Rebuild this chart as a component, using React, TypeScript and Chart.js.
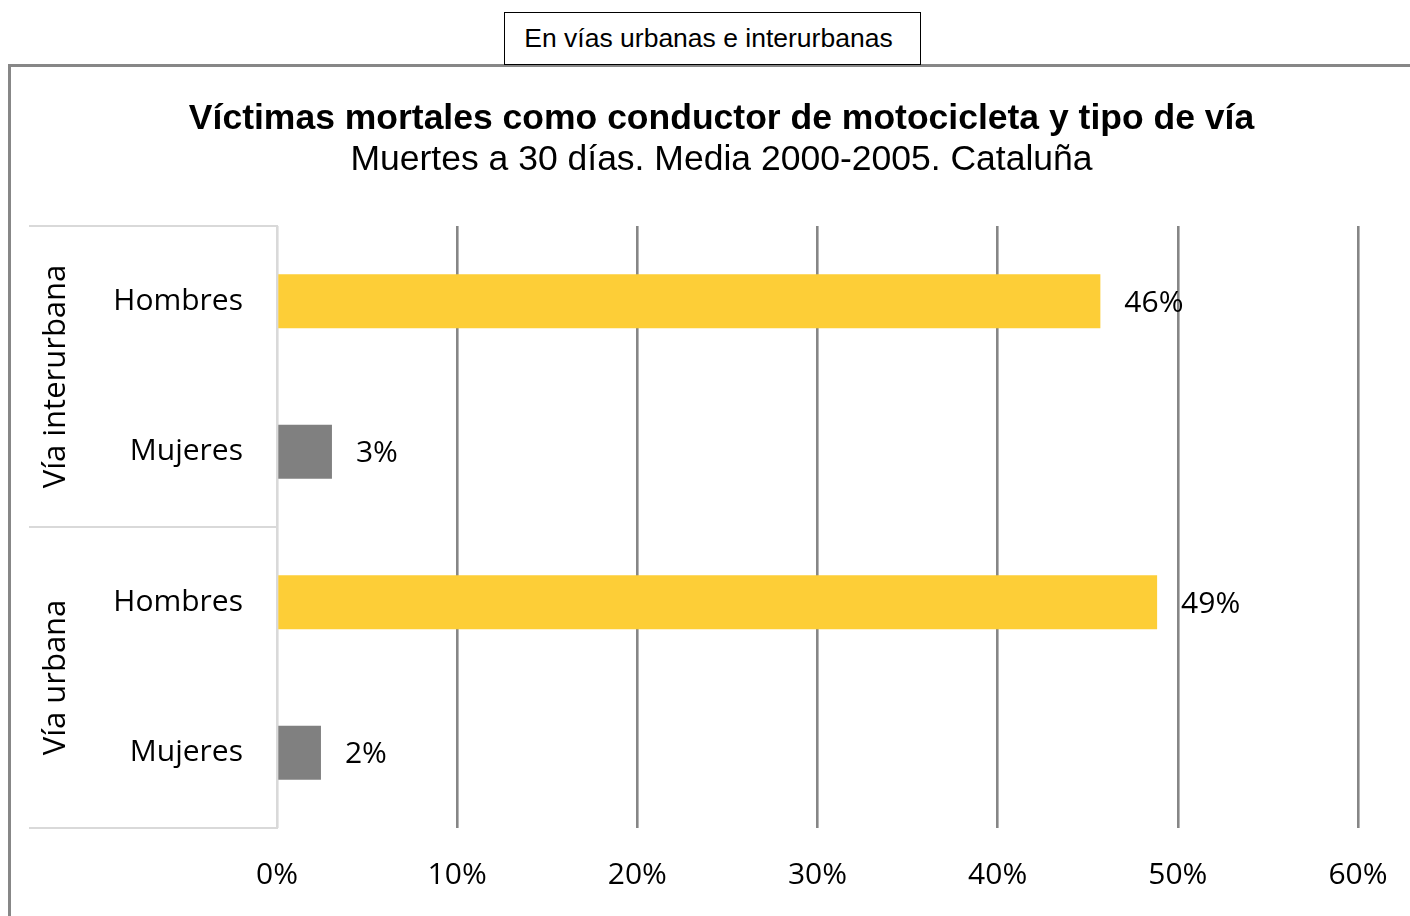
import React, { useEffect, useRef } from "react";
import { Chart, registerables } from "chart.js";

Chart.register(...registerables);

const groupLabels = ["Vía interurbana", "Vía urbana"];
const categories = ["Hombres", "Mujeres", "Hombres", "Mujeres"];
const values = [45.7, 3.05, 48.85, 2.44];
const barColors = ["#FDCE37", "#808080", "#FDCE37", "#808080"];
const xTicks = [0, 10, 20, 30, 40, 50, 60];

const LABEL_FONT = '"Open Sans", "Noto Sans", sans-serif';

const groupPlugin = {
  id: "groupPlugin",
  afterDraw(chart: any) {
    const { ctx, chartArea, scales } = chart;
    const y = scales.y;
    const left = y.left;
    ctx.save();
    ctx.strokeStyle = "#d9d9d9";
    ctx.lineWidth = 2;
    const mid = (y.getPixelForValue(1) + y.getPixelForValue(2)) / 2;
    [chartArea.top, mid, chartArea.bottom].forEach((py: number) => {
      ctx.beginPath();
      ctx.moveTo(left, py);
      ctx.lineTo(chartArea.left, py);
      ctx.stroke();
    });
    ctx.fillStyle = "#000";
    ctx.font = `31px ${LABEL_FONT}`;
    ctx.textAlign = "center";
    ctx.textBaseline = "middle";
    const bounds = [chartArea.top, mid, chartArea.bottom];
    groupLabels.forEach((g, i) => {
      const cy = (bounds[i] + bounds[i + 1]) / 2;
      ctx.save();
      ctx.translate(left + 27, cy);
      ctx.rotate(-Math.PI / 2);
      ctx.fillText(g, 0, 0);
      ctx.restore();
    });
    // data labels
    const meta = chart.getDatasetMeta(0);
    ctx.font = `30px ${LABEL_FONT}`;
    ctx.textAlign = "left";
    meta.data.forEach((bar: any, i: number) => {
      ctx.fillText(Math.round(values[i]) + "%", bar.x + 24, bar.y + 2);
    });
    ctx.restore();
  },
};

function BarChart() {
  const ref = useRef<HTMLCanvasElement>(null);
  useEffect(() => {
    if (!ref.current) return;
    const chart = new Chart(ref.current, {
      type: "bar",
      data: {
        labels: categories,
        datasets: [
          {
            data: values,
            backgroundColor: barColors,
            barPercentage: 0.9,
            categoryPercentage: 0.4,
          },
        ],
      },
      options: {
        indexAxis: "y",
        responsive: false,
        animation: false,
        devicePixelRatio: 1,
        layout: { padding: { left: 29, right: 52, top: 226, bottom: 0 } },
        plugins: {
          legend: { display: false },
          tooltip: { enabled: false },
          title: { display: false },
        },
        scales: {
          x: {
            min: 0,
            max: 60,
            afterBuildTicks: (scale: any) => {
              scale.ticks = xTicks.map((v) => ({ value: v }));
            },
            afterFit: (scale: any) => {
              scale.height = 88;
              scale.paddingLeft = 0;
              scale.paddingRight = 0;
            },
            grid: {
              drawTicks: false,
              color: (c: any) => (c.tick && c.tick.value === 0 ? "#d9d9d9" : "#868686"),
              lineWidth: 2.6,
            },
            border: { display: false },
            ticks: {
              padding: 29,
              color: "#000",
              font: { family: LABEL_FONT, size: 30 },
              callback: (v: any) => v + "%",
            },
          },
          y: {
            afterFit: (scale: any) => {
              scale.width = 248;
            },
            grid: { display: false, drawTicks: false },
            border: { display: true, color: "#d9d9d9", width: 2 },
            ticks: {
              padding: 34,
              color: "#000",
              font: { family: LABEL_FONT, size: 30 },
            },
          },
        },
      },
      plugins: [groupPlugin],
    });
    return () => chart.destroy();
  }, []);
  return (
    <canvas
      ref={ref}
      width={1410}
      height={916}
      style={{ position: "absolute", left: 0, top: 0, width: 1410, height: 916 }}
    />
  );
}

export default function App() {
  return (
    <div
      style={{
        position: "absolute",
        left: 0,
        top: 0,
        width: 1410,
        height: 916,
        background: "#fff",
        overflow: "hidden",
        fontFamily: '"Liberation Sans", Arial, sans-serif',
      }}
    >
      <div
        style={{
          position: "absolute",
          left: 8,
          top: 64,
          width: 1410,
          height: 860,
          borderTop: "3px solid #878787",
          borderLeft: "3px solid #878787",
          boxSizing: "border-box",
        }}
      />
      <div
        style={{
          position: "absolute",
          left: 504,
          top: 12,
          width: 417,
          height: 53,
          border: "1px solid #000",
          boxSizing: "border-box",
          textAlign: "center",
          fontSize: 26.5,
          lineHeight: "51px",
          color: "#000",
          background: "#fff",
          paddingRight: 8,
        }}
      >
        En vías urbanas e interurbanas
      </div>
      <BarChart />
      <div
        style={{
          position: "absolute",
          left: 33,
          right: 0,
          top: 97,
          textAlign: "center",
          fontSize: 35.5,
          lineHeight: "40px",
          fontWeight: "bold",
          color: "#000",
        }}
      >
        Víctimas mortales como conductor de motocicleta y tipo de vía
      </div>
      <div
        style={{
          position: "absolute",
          left: 33,
          right: 0,
          top: 138,
          textAlign: "center",
          fontSize: 35.5,
          lineHeight: "40px",
          color: "#000",
        }}
      >
        Muertes a 30 días. Media 2000-2005. Cataluña
      </div>
    </div>
  );
}
